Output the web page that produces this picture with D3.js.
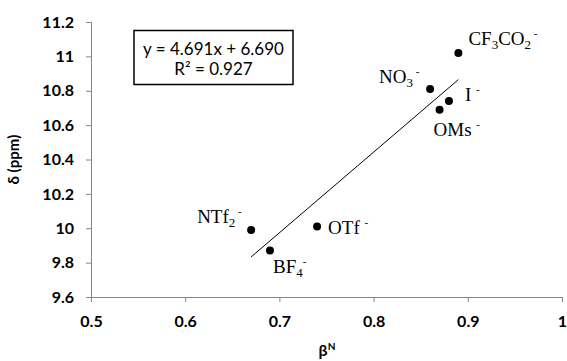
<!DOCTYPE html>
<html>
<head>
<meta charset="utf-8">
<script src="https://cdn.jsdelivr.net/npm/d3@7"></script>
<style>
  body { margin: 0; background: #fff; }
  svg { display: block; }
</style>
</head>
<body>
<svg id="chart" width="567" height="361"></svg>
<script>
// anion data
const anions = ['CF3CO2', 'NO3', 'I', 'OMs', 'NTf2', 'BF4', 'OTf'];
const betaN = [0.89, 0.86, 0.88, 0.87, 0.67, 0.69, 0.74];
const shift = [11.02, 10.81, 10.74, 10.69, 9.99, 9.87, 10.01];
const xTicks = [0.5, 0.6, 0.7, 0.8, 0.9, 1];
const yTicks = [9.6, 9.8, 10, 10.2, 10.4, 10.6, 10.8, 11, 11.2];
const slope = 4.691, intercept = 6.690;
const eqLines = ['y = 4.691x + 6.690', 'R² = 0.927'];

// label pieces: [text, kind] kind: n normal, s subscript, p superscript
const labelParts = {
  CF3CO2: [['CF', 'n'], ['3', 's'], ['CO', 'n'], ['2', 's'], [' -', 'p']],
  NO3: [['NO', 'n'], ['3', 's'], [' -', 'p']],
  I: [['I ', 'n'], ['-', 'p']],
  OMs: [['OMs ', 'n'], ['-', 'p']],
  NTf2: [['NTf', 'n'], ['2', 's'], [' -', 'p']],
  BF4: [['BF', 'n'], ['4', 's'], ['-', 'p']],
  OTf: [['OTf ', 'n'], ['-', 'p']]
};
// label offsets from the point (px)
const labelOffset = {
  CF3CO2: [10, -8], NO3: [-51, -6], I: [16, 0], OMs: [-6, 26],
  NTf2: [-54, -7], BF4: [3, 22], OTf: [11, 7]
};

const svg = d3.select('#chart');
const axisColor = '#868686';
const sans = 'Lato, sans-serif';

const x = d3.scaleLinear().domain([0.5, 1]).range([91, 562]);
const y = d3.scaleLinear().domain([9.6, 11.2]).range([297, 22]);

// y axis
const yAxis = svg.append('g')
  .attr('transform', 'translate(91,0)')
  .call(d3.axisLeft(y).tickValues(yTicks).tickSize(5).tickPadding(12)
    .tickFormat(d => d3.format('')(+d.toFixed(1))));
yAxis.select('.domain').attr('stroke', axisColor);
yAxis.selectAll('.tick line').attr('stroke', axisColor);
yAxis.selectAll('text')
  .attr('fill', '#000')
  .style('font-family', sans)
  .style('font-weight', 'bold')
  .style('font-size', '16px');

// x axis
const xAxis = svg.append('g')
  .attr('transform', 'translate(0,297)')
  .call(d3.axisBottom(x).tickValues(xTicks).tickSize(5).tickPadding(14)
    .tickFormat(d => d3.format('')(+d.toFixed(1))));
xAxis.select('.domain').attr('stroke', axisColor);
xAxis.selectAll('.tick line').attr('stroke', axisColor);
xAxis.selectAll('text')
  .attr('fill', '#000')
  .style('font-family', sans)
  .style('font-weight', 'bold')
  .style('font-size', '16px');

// axis titles
svg.append('text')
  .attr('transform', 'translate(19,159.5) rotate(-90)')
  .attr('text-anchor', 'middle')
  .style('font-family', sans)
  .style('font-weight', 'bold')
  .style('font-size', '15px')
  .text('δ (ppm)');

const xt = svg.append('text')
  .attr('x', 327)
  .attr('y', 356)
  .attr('text-anchor', 'middle')
  .style('font-family', sans)
  .style('font-weight', 'bold')
  .style('font-size', '16px');
xt.append('tspan').text('β');
xt.append('tspan').attr('dy', -6).style('font-size', '10px').text('N');

// trendline
const xMin = d3.min(betaN), xMax = d3.max(betaN);
svg.append('line')
  .attr('x1', x(xMin)).attr('y1', y(slope * xMin + intercept))
  .attr('x2', x(xMax)).attr('y2', y(slope * xMax + intercept))
  .attr('stroke', '#000')
  .attr('stroke-width', 1);

// points
const pts = anions.map((a, i) => ({ name: a, bx: betaN[i], d: shift[i] }));
svg.selectAll('circle.pt')
  .data(pts)
  .enter().append('circle')
  .attr('class', 'pt')
  .attr('cx', d => x(d.bx))
  .attr('cy', d => y(d.d))
  .attr('r', 4)
  .attr('fill', '#000');

// point labels
pts.forEach(p => {
  const off = labelOffset[p.name];
  const t = svg.append('text')
    .attr('x', x(p.bx) + off[0])
    .attr('y', y(p.d) + off[1])
    .style('font-family', '"Liberation Serif", "Times New Roman", serif')
    .style('font-size', '19px');
  let shiftNow = 0;
  labelParts[p.name].forEach(([txt, kind]) => {
    const target = kind === 's' ? 4 : kind === 'p' ? -8 : 0;
    t.append('tspan')
      .attr('dy', target - shiftNow)
      .style('font-size', kind === 'n' ? '19px' : kind === 's' ? '13px' : '11px')
      .text(txt);
    shiftNow = target;
  });
});

// equation box
svg.append('rect')
  .attr('x', 134).attr('y', 30.5)
  .attr('width', 159).attr('height', 54)
  .attr('fill', '#fff')
  .attr('stroke', '#000')
  .attr('stroke-width', 1.5);
svg.selectAll('text.eq')
  .data(eqLines)
  .enter().append('text')
  .attr('class', 'eq')
  .attr('x', 213.5)
  .attr('y', (d, i) => 54.5 + i * 20)
  .attr('text-anchor', 'middle')
  .style('font-family', sans)
  .style('font-size', '17px')
  .text(d => d);
</script>
</body>
</html>
